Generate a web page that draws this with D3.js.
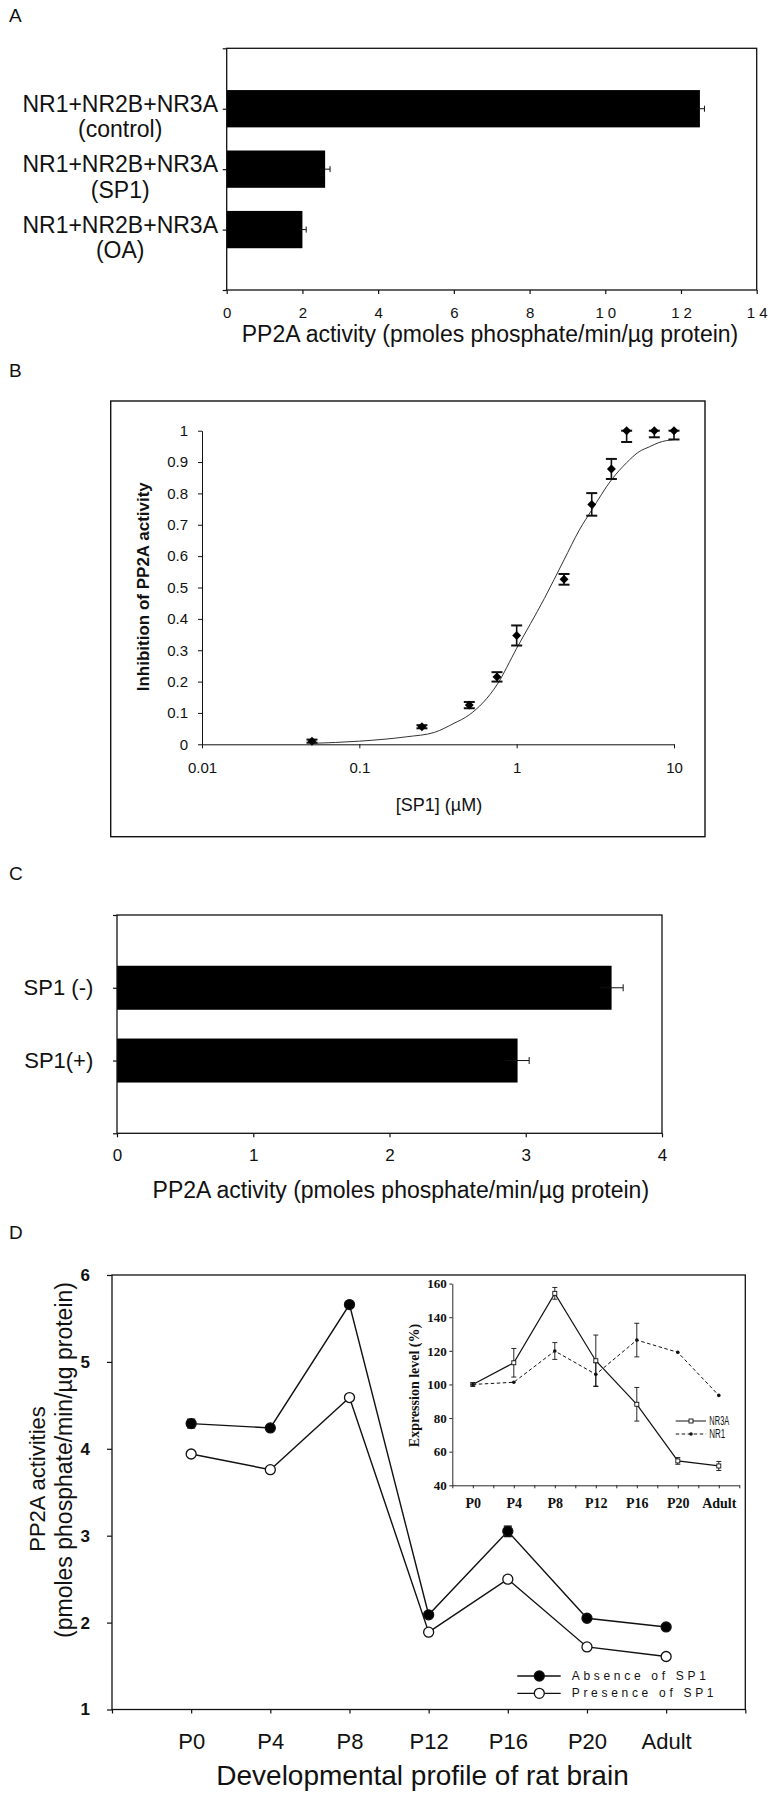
<!DOCTYPE html>
<html>
<head>
<meta charset="utf-8">
<script src="https://cdn.jsdelivr.net/npm/d3@7"></script>
<style>
  body { margin: 0; background: #fff; }
  svg { display: block; }
</style>
</head>
<body>
<svg id="chart" width="774" height="1800"></svg>
<script>
// ---------------- DATA ----------------
// Panel A
const aLine1 = ["NR1+NR2B+NR3A", "NR1+NR2B+NR3A", "NR1+NR2B+NR3A"];
const aLine2 = ["(control)", "(SP1)", "(OA)"];
const aValues = [12.5, 2.6, 2.0];
const aErrors = [0.12, 0.13, 0.1];
const aTicks = [0, 2, 4, 6, 8, 10, 12, 14];

// Panel B
const bConc = [0.05, 0.25, 0.5, 0.75, 1, 2, 3, 4, 5, 7.5, 10];
const bInhib = [0.01, 0.056, 0.125, 0.215, 0.347, 0.526, 0.765, 0.878, 1.0, 1.0, 1.0];
const bErr = [0.005, 0.005, 0.01, 0.015, 0.032, 0.017, 0.036, 0.032, 0.036, 0.021, 0.028];
const bCurveX = [0.05, 0.1, 0.2, 0.3, 0.4, 0.5, 0.75, 1, 1.5, 2, 2.5, 3, 4, 5, 6, 7, 8, 10];
const bCurveY = [0.003, 0.01, 0.024, 0.038, 0.067, 0.094, 0.19, 0.306, 0.465, 0.588, 0.683, 0.747, 0.843, 0.898, 0.933, 0.949, 0.962, 0.972];
const bXTicks = [0.01, 0.1, 1, 10];
const bYTicks = [0, 0.1, 0.2, 0.3, 0.4, 0.5, 0.6, 0.7, 0.8, 0.9, 1];

// Panel C
const cCategories = ["SP1 (-)", "SP1(+)"];
const cValues = [3.63, 2.94];
const cErrors = [0.085, 0.085];
const cTicks = [0, 1, 2, 3, 4];

// Panel D
const dStages = ["P0", "P4", "P8", "P12", "P16", "P20", "Adult"];
const dAbsence = [4.29, 4.24, 5.66, 2.09, 3.05, 2.05, 1.95];
const dAbsenceErr = [0.05, 0.02, 0.03, 0.02, 0.06, 0.02, 0.02];
const dPresence = [3.94, 3.76, 4.59, 1.89, 2.50, 1.72, 1.61];
const dPresenceErr = [0.02, 0.02, 0.02, 0.02, 0.04, 0.02, 0.02];
const dYTicks = [1, 2, 3, 4, 5, 6];
const dSeriesNames = ["Absence of SP1", "Presence of SP1"];

// Panel D inset
const insetNR3A = [100, 112.9, 154.2, 114.1, 88.2, 54.5, 51.5];
const insetNR3AErr = [0, 8.5, 3.5, 15.3, 10, 2, 2.7];
const insetNR1 = [100, 101.3, 119.9, 106, 126.4, 119.1, 93.5];
const insetNR1Err = [0, 0, 5, 7, 10, 0, 0];
const insetYTicks = [40, 60, 80, 100, 120, 140, 160];
const insetNames = ["NR3A", "NR1"];

// ---------------- DRAWING ----------------
const INK = "#111";
const SANS = '"Liberation Sans", Arial, Helvetica, sans-serif';
const SERIF = '"Liberation Serif", "Times New Roman", serif';
const svg = d3.select("#chart");
svg.append("rect").attr("width", 774).attr("height", 1800).attr("fill", "#fff");

function styleAxis(g, size, opts = {}) {
  g.attr("font-family", opts.family || SANS).attr("font-size", size);
  g.selectAll(".tick line").attr("stroke", INK).attr("stroke-width", opts.sw || 1.2);
  g.selectAll(".tick text").attr("fill", INK)
    .attr("font-weight", opts.weight || "normal");
  if (opts.ls) g.selectAll(".tick text").attr("letter-spacing", opts.ls).attr("dx", opts.ls / 2);
  if (opts.noDomain) g.select(".domain").remove();
  else g.select(".domain").attr("stroke", INK).attr("stroke-width", opts.sw || 1.2);
  return g;
}
function txt(g, x, y, s, size, extra = {}) {
  const t = g.append("text").attr("x", x).attr("y", y).attr("fill", INK)
    .attr("font-family", extra.family || SANS).attr("font-size", size)
    .attr("text-anchor", extra.anchor || "start")
    .attr("font-weight", extra.weight || "normal")
    .text(s);
  if (extra.rotate) t.attr("transform", `rotate(${extra.rotate},${x},${y})`);
  if (extra.baseline) t.attr("dominant-baseline", extra.baseline);
  if (extra.ls) t.attr("letter-spacing", extra.ls);
  if (extra.len) t.attr("textLength", extra.len).attr("lengthAdjust", "spacingAndGlyphs");
  return t;
}

// Panel letters
txt(svg, 9, 22, "A", 19);
txt(svg, 9, 377, "B", 19);
txt(svg, 9, 880, "C", 19);
txt(svg, 9, 1239, "D", 19);

// ===== Panel A =====
{
  const g = svg.append("g");
  const x = d3.scaleLinear().domain([0, 14]).range([226.7, 756.7]);
  const y = d3.scaleLinear().domain([0, 4]).range([48.3, 290]);
  const barH = 37.3;
  g.selectAll("rect.bar").data(aValues).join("rect").attr("class", "bar")
    .attr("x", x(0)).attr("y", (d, i) => y(i + 1) - barH / 2)
    .attr("width", d => x(d) - x(0)).attr("height", barH).attr("fill", "#000");
  aValues.forEach((v, i) => {
    const cy = y(i + 1), e = aErrors[i];
    g.append("line").attr("x1", x(v - e)).attr("x2", x(v + e)).attr("y1", cy).attr("y2", cy)
      .attr("stroke", INK).attr("stroke-width", 1);
    g.append("line").attr("x1", x(v + e)).attr("x2", x(v + e)).attr("y1", cy - 3).attr("y2", cy + 3)
      .attr("stroke", INK).attr("stroke-width", 1);
  });
  g.append("rect").attr("x", x(0)).attr("y", y(0)).attr("width", x(14) - x(0)).attr("height", y(4) - y(0))
    .attr("fill", "none").attr("stroke", INK).attr("stroke-width", 1.3);
  styleAxis(g.append("g").attr("transform", `translate(0,${y(4)})`)
    .call(d3.axisBottom(x).tickValues(aTicks).tickSize(4).tickPadding(13).tickFormat(d => String(d))),
    15, { noDomain: true, ls: 4 });
  styleAxis(g.append("g").attr("transform", `translate(${x(0)},0)`)
    .call(d3.axisLeft(y).tickValues([0, 1, 2, 3, 4]).tickSize(4).tickFormat(() => "")), 10, { noDomain: true });
  aLine1.forEach((t, i) => {
    const cy = y(i + 1);
    const t1 = txt(g, 218, cy + 3, t, 23, { anchor: "end" });
    const w = t1.node().getComputedTextLength();
    txt(g, 218 - w / 2, cy + 28.5, aLine2[i], 23, { anchor: "middle" });
  });
  txt(g, 490, 342, "PP2A activity (pmoles phosphate/min/\u00b5g protein)", 23, { anchor: "middle" });
}

// ===== Panel B =====
{
  const g = svg.append("g");
  g.append("rect").attr("x", 110.7).attr("y", 401).attr("width", 705 - 110.7).attr("height", 836.7 - 401)
    .attr("fill", "none").attr("stroke", INK).attr("stroke-width", 1.4);
  const x = d3.scaleLog().domain([0.01, 10]).range([202, 674]);
  const y = d3.scaleLinear().domain([0, 1]).range([744.3, 430.7]);
  styleAxis(g.append("g").attr("transform", `translate(${x(0.01)},0)`)
    .call(d3.axisLeft(y).tickValues(bYTicks).tickSize(4).tickSizeOuter(0).tickPadding(10).tickFormat(d => String(d))),
    15, { sw: 1 });
  styleAxis(g.append("g").attr("transform", `translate(0,${y(0)})`)
    .call(d3.axisBottom(x).tickValues(bXTicks).tickSize(4).tickSizeOuter(0).tickPadding(14).tickFormat(d => String(d))),
    15, { sw: 1 });
  const line = d3.line().x(d => x(d[0])).y(d => y(d[1])).curve(d3.curveMonotoneX);
  g.append("path").datum(bCurveX.map((v, i) => [v, bCurveY[i]])).attr("d", line)
    .attr("fill", "none").attr("stroke", "#333").attr("stroke-width", 1);
  bConc.forEach((c, i) => {
    const v = bInhib[i], e = bErr[i];
    const top = Math.min(1, v + e), bot = Math.max(0, v - e);
    const cx = x(c);
    g.append("line").attr("x1", cx).attr("x2", cx).attr("y1", y(top)).attr("y2", y(bot))
      .attr("stroke", INK).attr("stroke-width", 1.6);
    [top, bot].forEach(t => {
      g.append("line").attr("x1", cx - 5.5).attr("x2", cx + 5.5).attr("y1", y(t)).attr("y2", y(t))
        .attr("stroke", INK).attr("stroke-width", 2);
    });
  });
  const diamond = d3.symbol().type(d3.symbolSquare).size(40);
  g.selectAll("path.pt").data(bConc).join("path").attr("class", "pt")
    .attr("d", diamond)
    .attr("transform", (d, i) => `translate(${x(d)},${y(bInhib[i])}) rotate(45)`)
    .attr("fill", "#000");
  txt(g, 143.3, 586.7, "Inhibition of PP2A activity", 17, { anchor: "middle", baseline: "central", rotate: -90, weight: "bold" });
  txt(g, 439, 810.7, "[SP1] (\u00b5M)", 18, { anchor: "middle" });
}

// ===== Panel C =====
{
  const g = svg.append("g");
  const x = d3.scaleLinear().domain([0, 4]).range([117, 662]);
  const y = d3.scaleLinear().domain([0, 3]).range([915, 1133.3]);
  const barH = 44;
  g.selectAll("rect.bar").data(cValues).join("rect").attr("class", "bar")
    .attr("x", x(0)).attr("y", (d, i) => y(i + 1) - barH / 2)
    .attr("width", d => x(d) - x(0)).attr("height", barH).attr("fill", "#000");
  cValues.forEach((v, i) => {
    const cy = y(i + 1), e = cErrors[i];
    g.append("line").attr("x1", x(v - e)).attr("x2", x(v + e)).attr("y1", cy).attr("y2", cy)
      .attr("stroke", INK).attr("stroke-width", 1);
    g.append("line").attr("x1", x(v + e)).attr("x2", x(v + e)).attr("y1", cy - 3.5).attr("y2", cy + 3.5)
      .attr("stroke", INK).attr("stroke-width", 1);
  });
  g.append("rect").attr("x", x(0)).attr("y", y(0)).attr("width", x(4) - x(0)).attr("height", y(3) - y(0))
    .attr("fill", "none").attr("stroke", INK).attr("stroke-width", 1.3);
  styleAxis(g.append("g").attr("transform", `translate(0,${y(3)})`)
    .call(d3.axisBottom(x).tickValues(cTicks).tickSize(4).tickPadding(11.5).tickFormat(d => String(d))),
    17, { noDomain: true });
  styleAxis(g.append("g").attr("transform", `translate(${x(0)},0)`)
    .call(d3.axisLeft(y).tickValues([0, 1, 2, 3]).tickSize(4).tickFormat(() => "")), 10, { noDomain: true });
  cCategories.forEach((c, i) => {
    txt(g, 93.3, y(i + 1), c, 22, { anchor: "end", baseline: "central" });
  });
  txt(g, 400.8, 1198, "PP2A activity (pmoles phosphate/min/\u00b5g protein)", 23, { anchor: "middle" });
}

// ===== Panel D =====
{
  const g = svg.append("g");
  const x = d3.scaleLinear().domain([0, 8]).range([112, 745.3]);
  const y = d3.scaleLinear().domain([1, 6]).range([1709.5, 1275]);
  g.append("rect").attr("x", x(0)).attr("y", y(6)).attr("width", x(8) - x(0)).attr("height", y(1) - y(6))
    .attr("fill", "none").attr("stroke", INK).attr("stroke-width", 1.3);
  styleAxis(g.append("g").attr("transform", `translate(${x(0)},0)`)
    .call(d3.axisLeft(y).tickValues(dYTicks).tickSize(5).tickPadding(17).tickFormat(d => String(d))),
    17, { noDomain: true, weight: "bold" });
  styleAxis(g.append("g").attr("transform", `translate(0,${y(1)})`)
    .call(d3.axisBottom(x).tickValues([0, 1, 2, 3, 4, 5, 6, 7, 8]).tickSize(4).tickPadding(19.4)
      .tickFormat(d => (d >= 1 && d <= 7) ? dStages[d - 1] : "")),
    22, { noDomain: true });

  // ---- inset ----
  const ix = d3.scaleLinear().domain([0, 7]).range([452.3, 739.3]);
  const iy = d3.scaleLinear().domain([40, 160]).range([1485.3, 1283.6]);
  styleAxis(g.append("g").attr("transform", `translate(${ix(0)},0)`)
    .call(d3.axisLeft(iy).tickValues(insetYTicks).tickSize(3).tickSizeOuter(0).tickPadding(2.6).tickFormat(d => String(d))),
    13, { family: SERIF, weight: "bold", sw: 0.9 });
  styleAxis(g.append("g").attr("transform", `translate(0,${iy(40)})`)
    .call(d3.axisBottom(ix).tickValues(d3.range(0, 7.01, 0.5)).tickSize(3).tickSizeOuter(0).tickPadding(9.8)
      .tickFormat(d => Number.isInteger(d - 0.5) ? dStages[d - 0.5] : "")),
    14, { family: SERIF, weight: "bold", sw: 0.9 });
  txt(g, 414.6, 1385.5, "Expression level (%)", 14, { family: SERIF, weight: "bold", anchor: "middle", baseline: "central", rotate: -90 });

  const iline = d3.line().x((d, i) => ix(i + 0.5)).y(d => iy(d));
  g.append("path").datum(insetNR1).attr("d", iline).attr("fill", "none")
    .attr("stroke", INK).attr("stroke-width", 1).attr("stroke-dasharray", "3.5,2.5");
  g.append("path").datum(insetNR3A).attr("d", iline).attr("fill", "none")
    .attr("stroke", INK).attr("stroke-width", 1.2);
  function ierr(vals, errs) {
    vals.forEach((v, i) => {
      const e = errs[i]; if (!e) return;
      const cx = ix(i + 0.5);
      g.append("line").attr("x1", cx).attr("x2", cx).attr("y1", iy(v + e)).attr("y2", iy(v - e))
        .attr("stroke", INK).attr("stroke-width", 0.9);
      [v + e, v - e].forEach(t => g.append("line").attr("x1", cx - 2.5).attr("x2", cx + 2.5)
        .attr("y1", iy(t)).attr("y2", iy(t)).attr("stroke", INK).attr("stroke-width", 0.9));
    });
  }
  ierr(insetNR3A, insetNR3AErr);
  ierr(insetNR1, insetNR1Err);
  g.selectAll("rect.nr3a").data(insetNR3A).join("rect").attr("class", "nr3a")
    .attr("x", (d, i) => ix(i + 0.5) - 2).attr("y", d => iy(d) - 2).attr("width", 4).attr("height", 4)
    .attr("fill", "#fff").attr("stroke", INK).attr("stroke-width", 0.9);
  g.selectAll("circle.nr1").data(insetNR1).join("circle").attr("class", "nr1")
    .attr("cx", (d, i) => ix(i + 0.5)).attr("cy", d => iy(d)).attr("r", 1.8).attr("fill", INK);
  // inset legend
  [[1421, false], [1434, true]].forEach(([ly, dashed], k) => {
    const l = g.append("line").attr("x1", 675.7).attr("x2", 706).attr("y1", ly).attr("y2", ly)
      .attr("stroke", INK).attr("stroke-width", 1);
    if (dashed) l.attr("stroke-dasharray", "3.5,2.5");
    if (!dashed) g.append("rect").attr("x", 689).attr("y", ly - 2).attr("width", 4).attr("height", 4)
      .attr("fill", "#fff").attr("stroke", INK).attr("stroke-width", 0.9);
    else g.append("circle").attr("cx", 691).attr("cy", ly).attr("r", 1.8).attr("fill", INK);
    txt(g, 709.3, ly, insetNames[k], 12, { baseline: "central", len: k === 0 ? 20 : 16 });
  });

  // ---- main series ----
  const line = d3.line().x((d, i) => x(i + 1)).y(d => y(d));
  [[dAbsence, dAbsenceErr, true], [dPresence, dPresenceErr, false]].forEach(([vals, errs, filled]) => {
    g.append("path").datum(vals).attr("d", line).attr("fill", "none").attr("stroke", INK).attr("stroke-width", 1.4);
    vals.forEach((v, i) => {
      const cx = x(i + 1), e = errs[i];
      g.append("line").attr("x1", cx).attr("x2", cx).attr("y1", y(v + e)).attr("y2", y(v - e))
        .attr("stroke", INK).attr("stroke-width", 1.4);
      [v + e, v - e].forEach(t => g.append("line").attr("x1", cx - 4).attr("x2", cx + 4)
        .attr("y1", y(t)).attr("y2", y(t)).attr("stroke", INK).attr("stroke-width", 1.4));
    });
    g.selectAll(null).data(vals).join("circle")
      .attr("cx", (d, i) => x(i + 1)).attr("cy", d => y(d)).attr("r", 5)
      .attr("fill", filled ? "#000" : "#fff").attr("stroke", INK).attr("stroke-width", 1.3);
  });
  // legend
  [[1676, true], [1693.3, false]].forEach(([ly, filled], k) => {
    g.append("line").attr("x1", 517.3).attr("x2", 560.7).attr("y1", ly).attr("y2", ly)
      .attr("stroke", INK).attr("stroke-width", 1.3);
    g.append("circle").attr("cx", 539.3).attr("cy", ly).attr("r", 5)
      .attr("fill", filled ? "#000" : "#fff").attr("stroke", INK).attr("stroke-width", 1.3);
    txt(g, 571.7, ly, dSeriesNames[k], 12, { baseline: "central", ls: 3.7 });
  });

  txt(g, 37, 1479, "PP2A activities", 22, { anchor: "middle", baseline: "central", rotate: -90 });
  txt(g, 64, 1460, "(pmoles phosphate/min/\u00b5g protein)", 23, { anchor: "middle", baseline: "central", rotate: -90 });
  txt(g, 422.5, 1785, "Developmental profile of rat brain", 28, { anchor: "middle" });
}
</script>
</body>
</html>
